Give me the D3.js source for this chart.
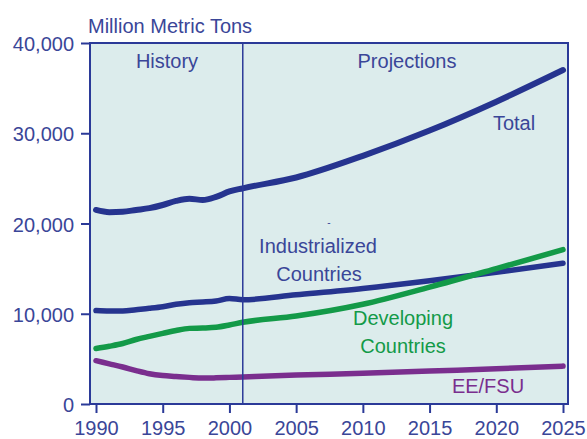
<!DOCTYPE html>
<html>
<head>
<meta charset="utf-8">
<script src="https://cdn.jsdelivr.net/npm/d3@7"></script>
<style>
  html, body { margin: 0; padding: 0; background: #ffffff; }
  svg { display: block; }
  text { font-family: "Liberation Sans", Arial, Helvetica, sans-serif; }
</style>
</head>
<body>
<svg id="chart" width="587" height="439"></svg>
<script>
// ---- Data (million metric tons of CO2) ----
const years = [1990, 1991, 1992, 1993, 1994, 1995, 1996, 1997, 1998, 1999, 2000, 2001, 2005, 2010, 2015, 2020, 2025];
const total          = [21500, 21250, 21300, 21500, 21700, 22050, 22500, 22750, 22600, 22950, 23550, 23900, 25100, 27500, 30300, 33500, 37000];
const industrialized = [10350, 10300, 10300, 10450, 10600, 10780, 11050, 11230, 11300, 11410, 11700, 11550, 12100, 12800, 13650, 14600, 15600];
const developing     = [6150, 6400, 6700, 7150, 7500, 7830, 8150, 8380, 8420, 8500, 8750, 9050, 9750, 11050, 12950, 15000, 17100];
const eefsu          = [4800, 4450, 4100, 3700, 3350, 3150, 3050, 2950, 2870, 2900, 2950, 3000, 3200, 3400, 3650, 3900, 4200];
const xTicks = [1990, 1995, 2000, 2005, 2010, 2015, 2020, 2025];
const yTicks = [0, 10000, 20000, 30000, 40000];
const dividerYear = 2001;
const unitLabel = "Million Metric Tons";

const seriesList = [
  { name: "Total", values: total, color: "#26348f", width: 6 },
  { name: "Industrialized", values: industrialized, color: "#26348f", width: 5.5 },
  { name: "Developing", values: developing, color: "#139a48", width: 5.5 },
  { name: "EE/FSU", values: eefsu, color: "#7a2e8e", width: 5.5 }
];

// ---- Layout ----
const svg = d3.select("#chart");
const axisColor = "#2b3a98";
const textColor = "#3a4698";
const frame = { left: 90, right: 568, top: 43, bottom: 404 };

const x = d3.scaleLinear().domain([1990, 2025]).range([96, 563]);
const y = d3.scaleLinear().domain([0, 40000]).range([404, 43]);

// background panel
svg.append("rect")
  .attr("x", frame.left).attr("y", frame.top)
  .attr("width", frame.right - frame.left)
  .attr("height", frame.bottom - frame.top)
  .attr("fill", "#dcecec");

// lines
const line = d3.line()
  .x((d, i) => x(years[i]))
  .y(d => y(d))
  .curve(d3.curveMonotoneX);

seriesList.forEach(s => {
  svg.append("path")
    .datum(s.values)
    .attr("d", line)
    .attr("fill", "none")
    .attr("stroke", s.color)
    .attr("stroke-width", s.width)
    .attr("stroke-linecap", "round")
    .attr("stroke-linejoin", "round");
});

// history/projection divider
svg.append("line")
  .attr("x1", x(dividerYear)).attr("x2", x(dividerYear))
  .attr("y1", frame.top).attr("y2", frame.bottom)
  .attr("stroke", axisColor).attr("stroke-width", 1.5);

// frame
svg.append("rect")
  .attr("x", frame.left).attr("y", frame.top)
  .attr("width", frame.right - frame.left)
  .attr("height", frame.bottom - frame.top)
  .attr("fill", "none")
  .attr("stroke", axisColor).attr("stroke-width", 2);

// Y axis
const yAxis = d3.axisLeft(y)
  .tickValues(yTicks)
  .tickSize(9)
  .tickPadding(7)
  .tickFormat(d3.format(","));
const gy = svg.append("g")
  .attr("transform", `translate(${frame.left},0)`)
  .call(yAxis);
gy.select(".domain").remove();
gy.selectAll(".tick line").attr("stroke", axisColor).attr("stroke-width", 2);
gy.selectAll(".tick text")
  .attr("fill", textColor)
  .attr("font-size", 20)
  .attr("dy", "0.38em");

// X axis
const xAxis = d3.axisBottom(x)
  .tickValues(xTicks)
  .tickSize(9)
  .tickPadding(8)
  .tickFormat(d3.format("d"));
const gx = svg.append("g")
  .attr("transform", `translate(0,${frame.bottom})`)
  .call(xAxis);
gx.select(".domain").remove();
gx.selectAll(".tick line").attr("stroke", axisColor).attr("stroke-width", 2);
gx.selectAll(".tick text")
  .attr("fill", textColor)
  .attr("font-size", 20);

// Text labels
function label(txt, cx, by, color, size) {
  svg.append("text")
    .attr("x", cx).attr("y", by)
    .attr("text-anchor", "middle")
    .attr("fill", color)
    .attr("font-size", size || 20)
    .text(txt);
}
svg.append("text")
  .attr("x", 88).attr("y", 33)
  .attr("fill", textColor)
  .attr("font-size", 20)
  .text(unitLabel);

label("History", 167, 68, textColor);
label("Projections", 407, 68, textColor);
label("Total", 514, 130, textColor);
label("Industrialized", 318, 253, textColor);
label("Countries", 319, 281, textColor);
label("-", 329, 226, textColor, 10);
label("Developing", 403, 325, "#139a48");
label("Countries", 403, 353, "#139a48");
label("EE/FSU", 488, 393, "#7a2e8e");
</script>
</body>
</html>
